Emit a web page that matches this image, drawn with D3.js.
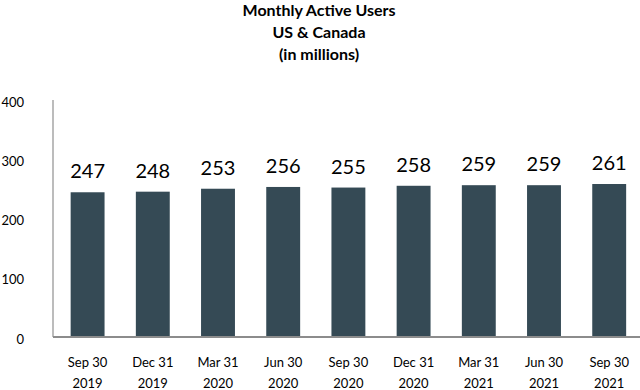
<!DOCTYPE html>
<html><head><meta charset="utf-8">
<script src="https://cdn.jsdelivr.net/npm/d3@7"></script>
<style>body{margin:0;background:#fff}svg{display:block}</style>
</head><body>
<svg id="c" width="640" height="390"></svg>
<script>
const categories = [["Sep 30","2019"],["Dec 31","2019"],["Mar 31","2020"],["Jun 30","2020"],["Sep 30","2020"],["Dec 31","2020"],["Mar 31","2021"],["Jun 30","2021"],["Sep 30","2021"]];
const values = [247,248,253,256,255,258,259,259,261];
const yTicks = [0,100,200,300,400];
const titleLines = ["Monthly Active Users","US & Canada","(in millions)"];

(function(){
const svg = d3.select("#c");
const font = "Lato, 'Open Sans', sans-serif";
const mLeft = 53, mRight = 640, mTop = 100, mBottom = 337;
const x = d3.scaleBand().domain(categories.map((d,i)=>i)).range([mLeft+2, mLeft+2+65.2*9]).paddingInner(0.48).paddingOuter(0.24);
const y = d3.scaleLinear().domain([0,400]).range([338, 102]);

svg.append("g").selectAll("text").data(titleLines).join("text")
  .attr("x", 319).attr("y",(d,i)=>16+i*22).attr("text-anchor","middle")
  .attr("font-family",font).attr("font-weight","bold").attr("font-size",16).attr("fill","#000").text(d=>d);

const yAxis = d3.axisLeft(y).tickValues(yTicks).tickSize(0).tickPadding(0);
const gy = svg.append("g").attr("transform","translate(24,0)").call(yAxis);
gy.select(".domain").remove();
gy.selectAll("text").attr("font-family",font).attr("font-size",13).attr("fill","#000").attr("dy",(d)=>d===0?"0.45em":"0.36em");

svg.append("line").attr("x1",mLeft).attr("x2",mLeft).attr("y1",mTop).attr("y2",mBottom).attr("stroke","#a6a6a6").attr("stroke-width",1.5);

svg.append("g").selectAll("rect").data(values).join("rect")
  .attr("x",(d,i)=>x(i)).attr("width",x.bandwidth())
  .attr("y",d=>y(d)).attr("height",d=>mBottom-y(d)).attr("fill","#354a55");

svg.append("line").attr("x1",mLeft).attr("x2",mRight).attr("y1",mBottom).attr("y2",mBottom).attr("stroke","#8c8c8c").attr("stroke-width",2);

svg.append("g").selectAll("text").data(values).join("text")
  .attr("x",(d,i)=>x(i)+x.bandwidth()/2).attr("y",d=>y(d)-14)
  .attr("text-anchor","middle").attr("font-family",font).attr("font-size",20).attr("fill","#000").text(d=>d);

const xl = svg.append("g").selectAll("text").data(categories).join("text")
  .attr("text-anchor","middle").attr("font-family",font).attr("font-size",13).attr("fill","#000");
xl.append("tspan").attr("x",(d,i)=>x(i)+x.bandwidth()/2).attr("y",367).text(d=>d[0]);
xl.append("tspan").attr("x",(d,i)=>x(i)+x.bandwidth()/2).attr("y",388).text(d=>d[1]);
})();
</script>
</body></html>
